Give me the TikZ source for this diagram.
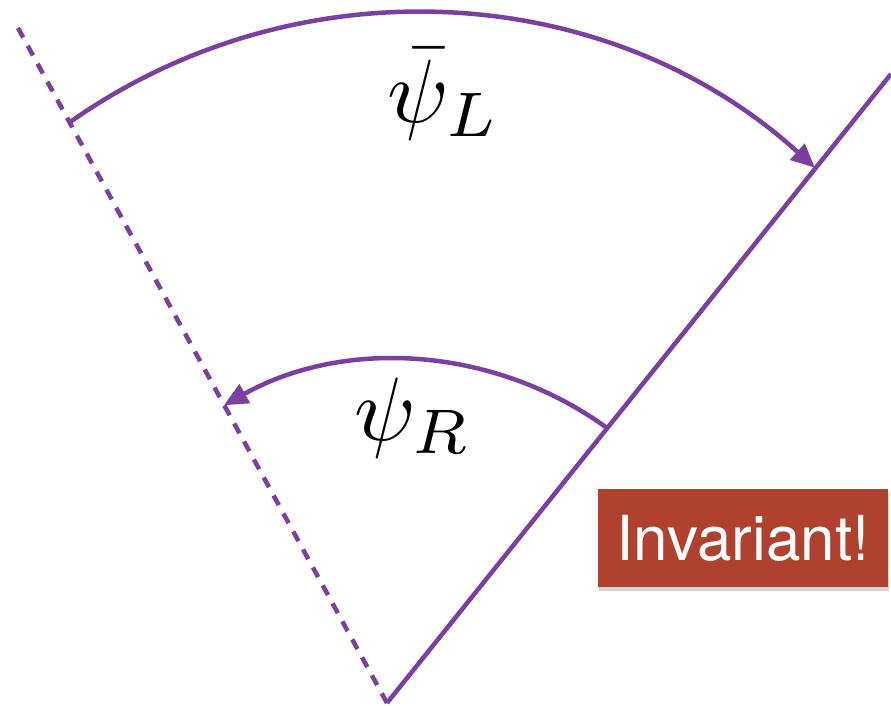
\documentclass[tikz,border=0pt]{standalone}
\usepackage{fontspec}
\usetikzlibrary{arrows.meta,shadows}
\newfontfamily\boxfont{TeX Gyre Heros}
\definecolor{chiral}{HTML}{7A3FA0}
\definecolor{brick}{HTML}{B0412F}

\begin{document}
\begin{tikzpicture}[x=1pt,y=1pt,
  axis/.style={chiral,line width=4.5pt},
  rot/.style={chiral,line width=4.5pt,-{Triangle[length=24pt,width=21pt]}},
  lbl/.style={scale=9,anchor=base,inner sep=0pt}]
\useasboundingbox (0,0) rectangle (891,705);
\coordinate (O) at (387,2);
\coordinate (A) at (891,631);
\coordinate (B) at (18,677);
\coordinate (C1) at (414,95);
\coordinate (C2) at (397.7,-11.3);
% Axes
\draw[axis] (O) -- (A);
\draw[axis,dash pattern=on 11pt off 9.5pt] (O) -- (B);
% Rotations
\draw[rot] (C1) ++(125.2:597) arc[start angle=125.2,end angle=47.8,radius=597];
\draw[rot] (C2) ++(54:356.3) arc[start angle=54,end angle=119.2,radius=356.3];
% Labels
\node[lbl] (psiL) at (444,582) {$\bar\psi_L$};
\node[lbl] (psiR) at (413,265) {$\psi_R$};
\node[fill=brick,text=white,minimum width=290pt,minimum height=98pt,
  drop shadow={shadow xshift=1pt,shadow yshift=-4pt,opacity=0.35}]
  (inv) at (743,167) {\boxfont\fontsize{62}{70}\selectfont Invariant!};
\end{tikzpicture}
\end{document}
